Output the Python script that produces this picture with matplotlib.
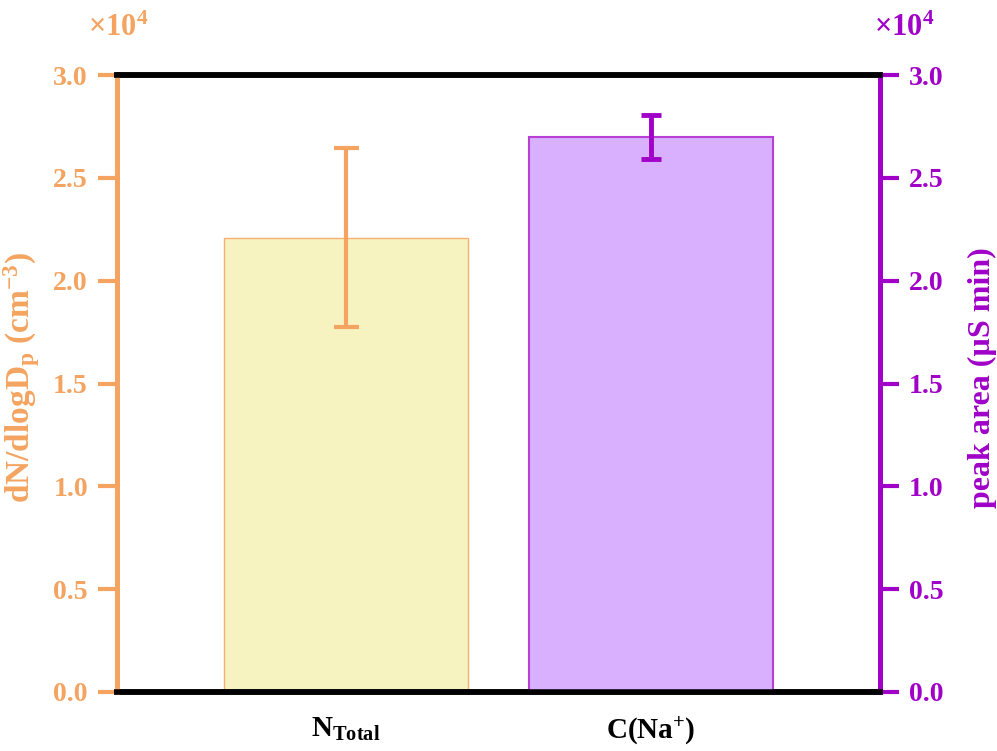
import matplotlib.pyplot as plt
from matplotlib.ticker import FuncFormatter, MultipleLocator

# bar data (raw units)
categories = ['N$_{\\mathrm{Total}}$', 'C(Na$^{\\mathrm{+}}$)']
values = [22100, 26980]
errors = [4350, 1080]

orange = '#F4A460'
purple = '#A000C8'
fill_colors = ['#F6F3C1', '#D8B0FE']
edge_colors = ['#F6B070', '#B840D8']

plt.rcParams['font.family'] = 'Liberation Serif'
plt.rcParams['font.weight'] = 'bold'
plt.rcParams['mathtext.fontset'] = 'custom'
plt.rcParams['mathtext.rm'] = 'Liberation Serif:bold'
plt.rcParams['mathtext.it'] = 'Liberation Serif:bold:italic'
plt.rcParams['mathtext.bf'] = 'Liberation Serif:bold'

fig = plt.figure(figsize=(9.97, 7.51), dpi=100)
ax1 = fig.add_axes([0.1174, 0.0786, 0.7652, 0.8214])
ax2 = ax1.twinx()

x = [1, 2]
ax1.bar(x[0], values[0], width=0.8, color=fill_colors[0], edgecolor=edge_colors[0], linewidth=1.0, zorder=2)
ax1.errorbar(x[0], values[0], yerr=errors[0], fmt='none', ecolor=orange, elinewidth=3, capsize=9, capthick=3, zorder=3)
ax2.bar(x[1], values[1], width=0.8, color=fill_colors[1], edgecolor=edge_colors[1], linewidth=1.5, zorder=2)
ax2.errorbar(x[1], values[1], yerr=errors[1], fmt='none', ecolor=purple, elinewidth=3.5, capsize=7, capthick=3.5, zorder=3)

fmt = FuncFormatter(lambda v, pos: f'{v / 1e4:.1f}')
for ax, col in ((ax1, orange), (ax2, purple)):
    ax.set_ylim(0, 30000)
    ax.yaxis.set_major_locator(MultipleLocator(5000))
    ax.yaxis.set_major_formatter(fmt)
    ax.tick_params(axis='y', colors=col, labelsize=20, width=3, length=14, direction='out', pad=7)
    for lab in ax.get_yticklabels():
        lab.set_fontweight('bold')

ax1.set_xlim(0.25, 2.75)
ax1.set_xticks(x)
ax1.set_xticklabels(categories, fontsize=21, fontweight='bold')
ax1.tick_params(axis='x', length=0, pad=17)

for ax in (ax1, ax2):
    ax.spines['top'].set_color('black')
    ax.spines['top'].set_linewidth(4)
    ax.spines['bottom'].set_color('black')
    ax.spines['bottom'].set_linewidth(4)
    ax.spines['left'].set_color(orange)
    ax.spines['left'].set_linewidth(3.5)
    ax.spines['right'].set_color(purple)
    ax.spines['right'].set_linewidth(3.5)

ax1.set_ylabel('dN/dlogD$_{\\mathrm{p}}$ (cm$^{\\mathrm{-3}}$)', color=orange, fontsize=24, fontweight='bold')
ax2.set_ylabel('peak area (µS min)', color=purple, fontsize=23, fontweight='bold')
ax1.yaxis.set_label_coords(-0.098, 0.51)
ax2.yaxis.set_label_coords(1.115, 0.51)

# multiplier labels above each axis
fig.text(0.088, 0.962, '×10$^{\\mathrm{4}}$', color=orange, fontsize=22, fontweight='bold', va='center')
fig.text(0.877, 0.962, '×10$^{\\mathrm{4}}$', color=purple, fontsize=22, fontweight='bold', va='center')

fig.savefig('out.png', dpi=100)
